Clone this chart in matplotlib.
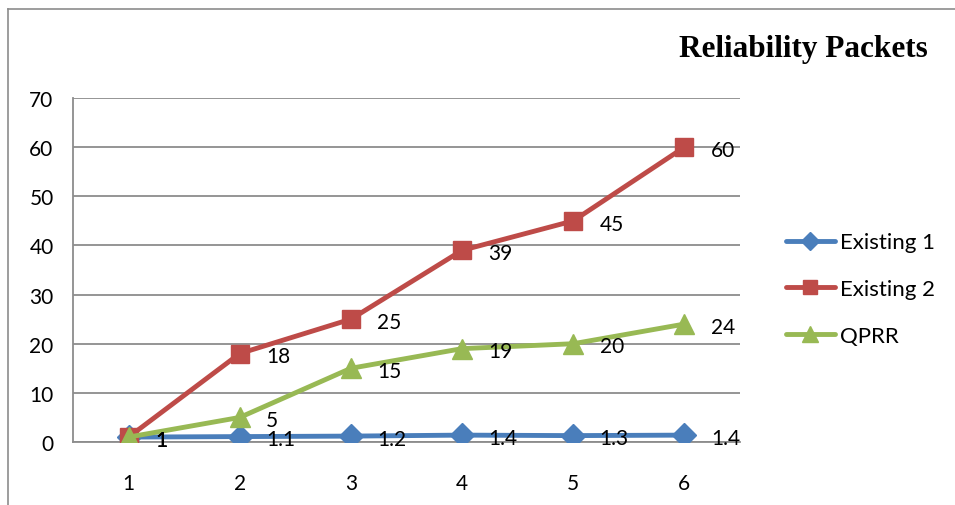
import matplotlib
matplotlib.use("Agg")
import matplotlib.pyplot as plt
from matplotlib.lines import Line2D

categories = [1, 2, 3, 4, 5, 6]
existing1 = [1, 1.1, 1.2, 1.4, 1.3, 1.4]
existing2 = [1, 18, 25, 39, 45, 60]
qprr = [1, 5, 15, 19, 20, 24]
labels1 = ["1", "1.1", "1.2", "1.4", "1.3", "1.4"]
labels2 = ["1", "18", "25", "39", "45", "60"]
labels3 = ["1", "5", "15", "19", "20", "24"]
yticks = [0, 10, 20, 30, 40, 50, 60, 70]

font = "Lato"
fig = plt.figure(figsize=(9.55, 5.06), dpi=100)
ax = fig.add_axes([73/955, 1-443/506, (740-73)/955, (443-99)/506])

blue, red, green = "#4A7EBB", "#BE4B48", "#98B954"
series = [
    ("Existing 1", existing1, labels1, blue, "D", 12.5),
    ("Existing 2", existing2, labels2, red, "s", 13),
    ("QPRR", qprr, labels3, green, "^", 15),
]
for name, vals, labs, col, mk, ms in series:
    ax.plot(categories, vals, color=col, lw=3.5, marker=mk, ms=ms,
            label=name, solid_capstyle="round", zorder=3)
for name, vals, labs, col, mk, ms in reversed(series):
    for x, y, t in zip(categories, vals, labs):
        ax.annotate(t, (x, y), xytext=(19, -2), textcoords="offset points",
                    ha="left", va="center", fontsize=15, family=font,
                    color="black", zorder=4)

ax.set_xlim(0.5, 6.5)
ax.set_ylim(0, 70)
ax.set_xticks(categories)
ax.set_xticklabels([str(c) for c in categories])
ax.set_yticks(yticks)
ax.grid(axis="y", color="#8C8C8C", lw=1.3)
ax.set_axisbelow(True)
for s in ["top", "right"]:
    ax.spines[s].set_visible(False)
for s in ["left", "bottom"]:
    ax.spines[s].set_color("#8C8C8C")
    ax.spines[s].set_linewidth(1.3)
ax.tick_params(length=0, labelsize=15, pad=14)
ax.tick_params(axis="x", pad=22)
for lab in ax.get_xticklabels() + ax.get_yticklabels():
    lab.set_family(font)

fig.text(928/955, 1-49/506, "Reliability Packets", ha="right", va="center",
         fontsize=22.5, fontweight="bold", family="Liberation Serif")

leg = fig.legend(loc="center left", bbox_to_anchor=(766/955, 1-290/506),
                 frameon=False, prop={"family": font, "size": 16},
                 handlelength=2.2, labelspacing=1.2, handletextpad=0.25,
                 markerscale=0.75)

# outer chart frame
fig.add_artist(Line2D([8/955, 8/955], [0, 1-10/506], color="#8C8C8C", lw=1.2))
fig.add_artist(Line2D([8/955, 1], [1-10/506, 1-10/506], color="#8C8C8C", lw=1.2))

fig.savefig("out.png", dpi=100)
